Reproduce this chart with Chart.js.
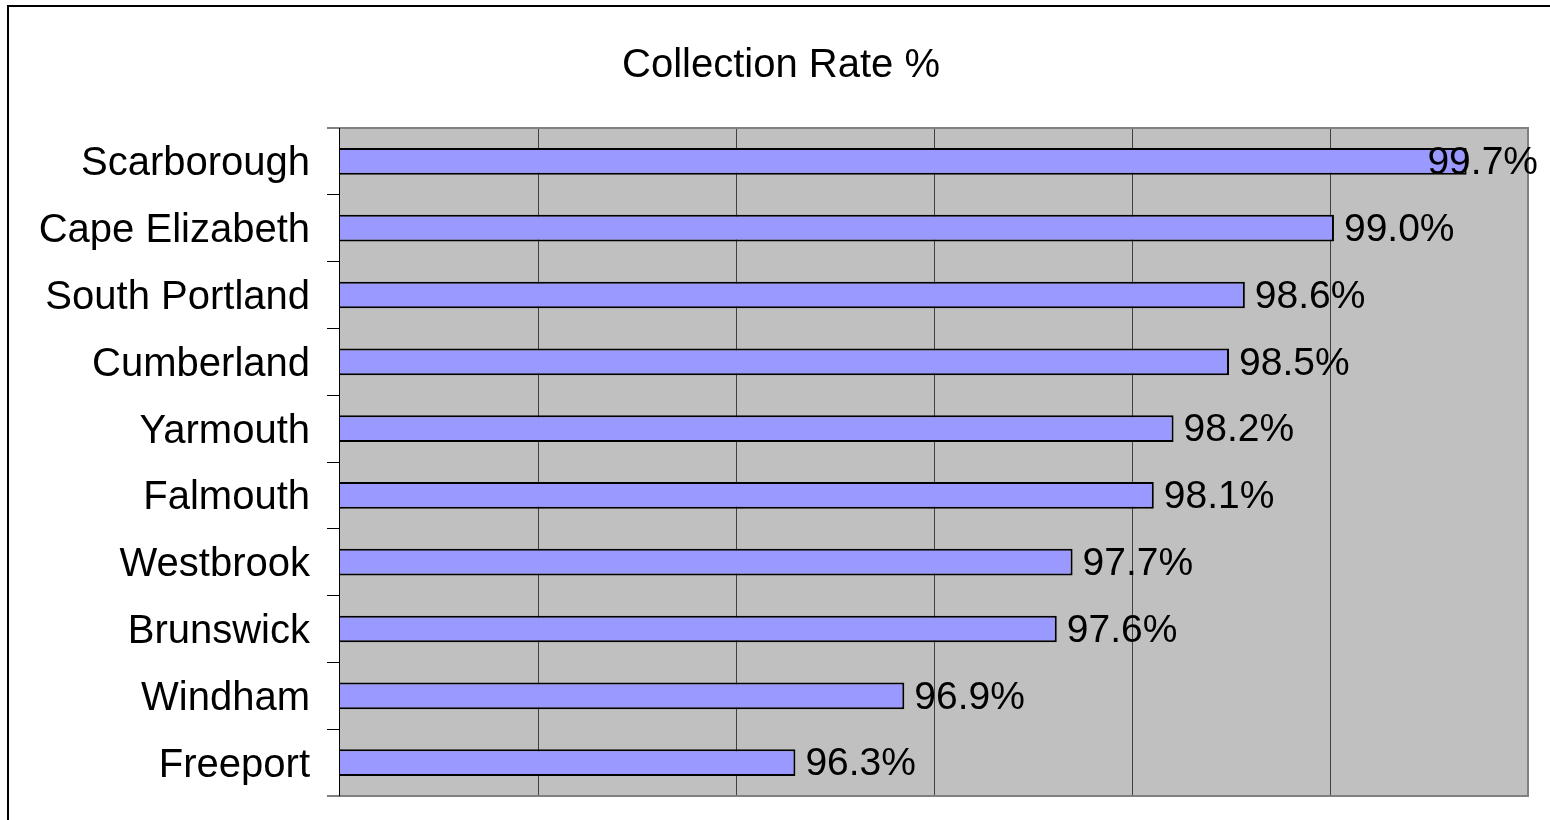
<!DOCTYPE html>
<html>
<head>
<meta charset="utf-8">
<script src="https://cdn.jsdelivr.net/npm/chart.js@4.4.1/dist/chart.umd.min.js"></script>
<style>
  html, body { margin: 0; padding: 0; background: #fff; }
  #wrap { width: 1550px; height: 820px; position: relative; }
</style>
</head>
<body>
<div id="wrap"><canvas id="c" width="1550" height="820"></canvas></div>
<script>
const categories = ["Scarborough", "Cape Elizabeth", "South Portland", "Cumberland", "Yarmouth", "Falmouth", "Westbrook", "Brunswick", "Windham", "Freeport"];
const collectionRate = [99.69, 99.02, 98.57, 98.49, 98.21, 98.11, 97.70, 97.62, 96.85, 96.30];
const valueLabels = ["99.7%", "99.0%", "98.6%", "98.5%", "98.2%", "98.1%", "97.7%", "97.6%", "96.9%", "96.3%"];
const axisMin = 94;
const axisMax = 100;
const axisStep = 1;
const chartTitle = "Collection Rate %";

const FONT = "'Liberation Sans', Arial, sans-serif";

const frameAndBackground = {
  id: 'frameAndBackground',
  beforeDraw(chart) {
    const { ctx, chartArea: a } = chart;
    ctx.save();
    ctx.fillStyle = '#ffffff';
    ctx.fillRect(0, 0, chart.width, chart.height);
    ctx.strokeStyle = '#000000';
    ctx.lineWidth = 2;
    ctx.strokeRect(8, 6, chart.width + 50, chart.height + 50);
    ctx.fillStyle = '#C0C0C0';
    ctx.fillRect(a.left, a.top, a.right - a.left, a.bottom - a.top);
    ctx.restore();
  },
  beforeDatasetsDraw(chart) {
    const { ctx, chartArea: a } = chart;
    ctx.save();
    ctx.strokeStyle = '#808080';
    ctx.lineWidth = 2;
    ctx.beginPath();
    ctx.moveTo(a.left - 13, a.top);
    ctx.lineTo(a.right, a.top);
    ctx.lineTo(a.right, a.bottom);
    ctx.lineTo(a.left - 13, a.bottom);
    ctx.stroke();
    ctx.strokeStyle = '#000000';
    ctx.lineWidth = 1;
    ctx.beginPath();
    ctx.moveTo(a.left - 0.5, a.top);
    ctx.lineTo(a.left - 0.5, a.bottom);
    ctx.stroke();
    ctx.restore();
  }
};

const valueLabelPlugin = {
  id: 'valueLabelPlugin',
  afterDatasetsDraw(chart) {
    const { ctx } = chart;
    const meta = chart.getDatasetMeta(0);
    ctx.save();
    ctx.font = '39px ' + FONT;
    ctx.fillStyle = '#000000';
    ctx.textBaseline = 'middle';
    ctx.textAlign = 'left';
    meta.data.forEach((bar, i) => {
      const txt = valueLabels[i];
      const w = ctx.measureText(txt).width;
      let x = bar.x + 10;
      const maxRight = chart.width - 12;
      if (x + w > maxRight) x = maxRight - w;
      ctx.fillText(txt, x, bar.y + 2);
    });
    ctx.restore();
  }
};

new Chart(document.getElementById('c'), {
  type: 'bar',
  data: {
    labels: categories,
    datasets: [{
      data: collectionRate,
      backgroundColor: '#9999FF',
      borderColor: '#000000',
      borderWidth: 2,
      borderSkipped: false,
      categoryPercentage: 1.0,
      barPercentage: 0.4
    }]
  },
  options: {
    indexAxis: 'y',
    responsive: false,
    animation: false,
    devicePixelRatio: 1,
    layout: { padding: { left: 34, right: 22, top: 0, bottom: 24 } },
    plugins: {
      legend: { display: false },
      tooltip: { enabled: false },
      title: {
        display: true,
        text: chartTitle,
        color: '#000000',
        font: { family: FONT, size: 40, weight: 'normal', lineHeight: 1.2 },
        padding: { top: 42, bottom: 38 }
      }
    },
    scales: {
      x: {
        min: axisMin,
        max: axisMax,
        afterFit(scale) { scale.height = 0; scale.paddingLeft = 0; scale.paddingRight = 0; },
        ticks: { display: false, stepSize: axisStep },
        grid: {
          drawTicks: false,
          color: (c) => (c.index === 0 ? 'rgba(0,0,0,0)' : (c.index === 6 ? '#808080' : '#404040')),
          lineWidth: 1
        },
        border: { display: false }
      },
      y: {
        afterFit(scale) { scale.width = 306; scale.paddingTop = 0; scale.paddingBottom = 0; },
        ticks: {
          color: '#000000',
          font: { family: FONT, size: 40 },
          padding: 17,
          labelOffset: 3,
          autoSkip: false
        },
        grid: {
          drawOnChartArea: false,
          drawTicks: true,
          tickLength: 13,
          color: (c) => (c.index === 0 || c.index === 10 ? '#808080' : '#000000')
        },
        border: { display: false }
      }
    }
  },
  plugins: [frameAndBackground, valueLabelPlugin]
});
</script>
</body>
</html>
